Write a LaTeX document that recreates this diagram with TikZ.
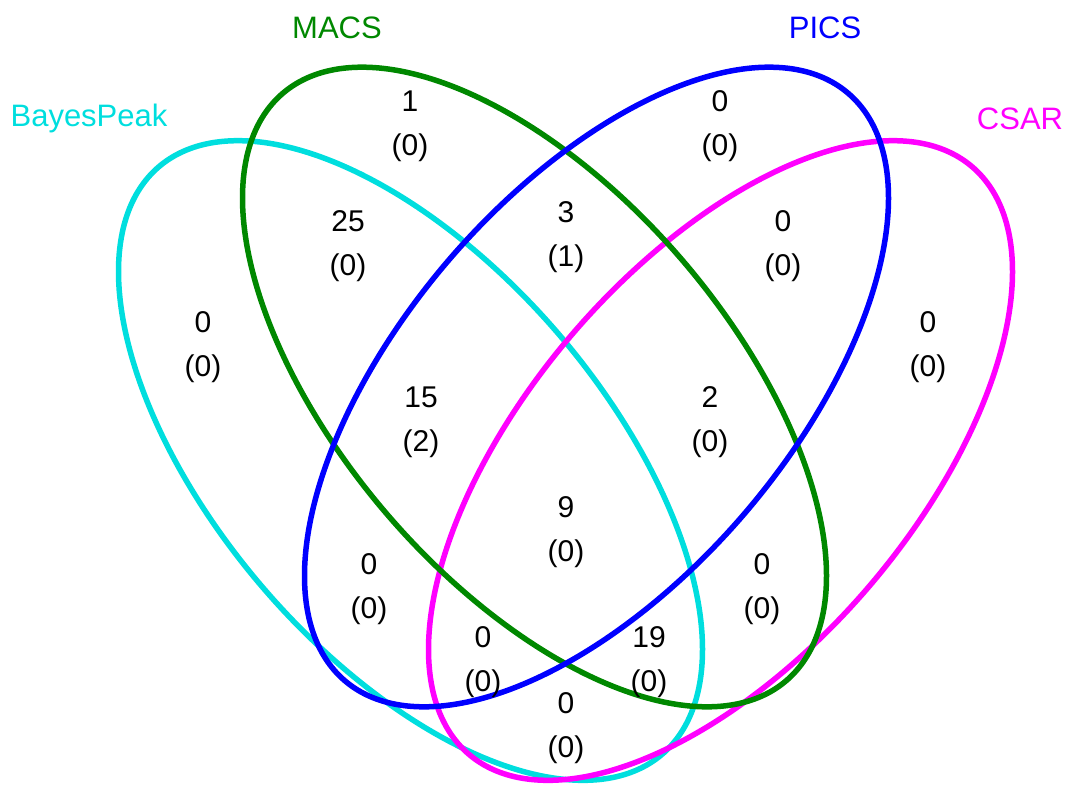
\documentclass[tikz,border=0pt]{standalone}
\usepackage{fontspec}
\setmainfont{Liberation Sans}
\definecolor{cBayes}{RGB}{0,222,222}
\definecolor{cMacs}{RGB}{0,136,0}
\definecolor{cPics}{RGB}{0,0,255}
\definecolor{cCsar}{RGB}{255,0,255}
\tikzset{
  vline/.style={line width=5.5pt},
  setlab/.style={font=\fontsize{31}{36}\selectfont, inner sep=0pt},
  cnt/.style={font=\fontsize{30}{44}\selectfont, align=center, inner sep=0pt, text=black}
}
\begin{document}
\begin{tikzpicture}[x=1pt,y=-1pt]
\useasboundingbox (0,0) rectangle (1073,787);
% ellipses
\draw[vline, cBayes] plot[domain=0:358, samples=180, smooth cycle] ({410.5+292*cos(\x)}, {460.5+189*cos(\x)+258*sin(\x)});
\draw[vline, cCsar] plot[domain=0:358, samples=180, smooth cycle] ({720.5-292*cos(\x)}, {460.5+189*cos(\x)+258*sin(\x)});
\draw[vline, cMacs] plot[domain=0:358, samples=180, smooth cycle] ({534.5+292*cos(\x)}, {387+189*cos(\x)+258*sin(\x)});
\draw[vline, cPics] plot[domain=0:358, samples=180, smooth cycle] ({596.5-292*cos(\x)}, {387+189*cos(\x)+258*sin(\x)});
% set labels
\node[setlab, text=cBayes] (lBayes) at (89,118) {BayesPeak};
\node[setlab, text=cMacs] (lMacs) at (337,28) {MACS};
\node[setlab, text=cPics] (lPics) at (825,28) {PICS};
\node[setlab, text=cCsar] (lCsar) at (1020,119) {CSAR};
% counts
\node[cnt] (r1) at (410,126) {1\\(0)};
\node[cnt] (r2) at (720,126) {0\\(0)};
\node[cnt] (r3) at (348,246) {25\\(0)};
\node[cnt] (r4) at (566,237) {3\\(1)};
\node[cnt] (r5) at (783,246) {0\\(0)};
\node[cnt] (r6) at (203,347) {0\\(0)};
\node[cnt] (r7) at (928,347) {0\\(0)};
\node[cnt] (r8) at (421,422) {15\\(2)};
\node[cnt] (r9) at (710,422) {2\\(0)};
\node[cnt] (r10) at (566,532) {9\\(0)};
\node[cnt] (r11) at (369,589) {0\\(0)};
\node[cnt] (r12) at (762,589) {0\\(0)};
\node[cnt] (r13) at (483,662) {0\\(0)};
\node[cnt] (r14) at (649,662) {19\\(0)};
\node[cnt] (r15) at (566,728) {0\\(0)};
\end{tikzpicture}
\end{document}
